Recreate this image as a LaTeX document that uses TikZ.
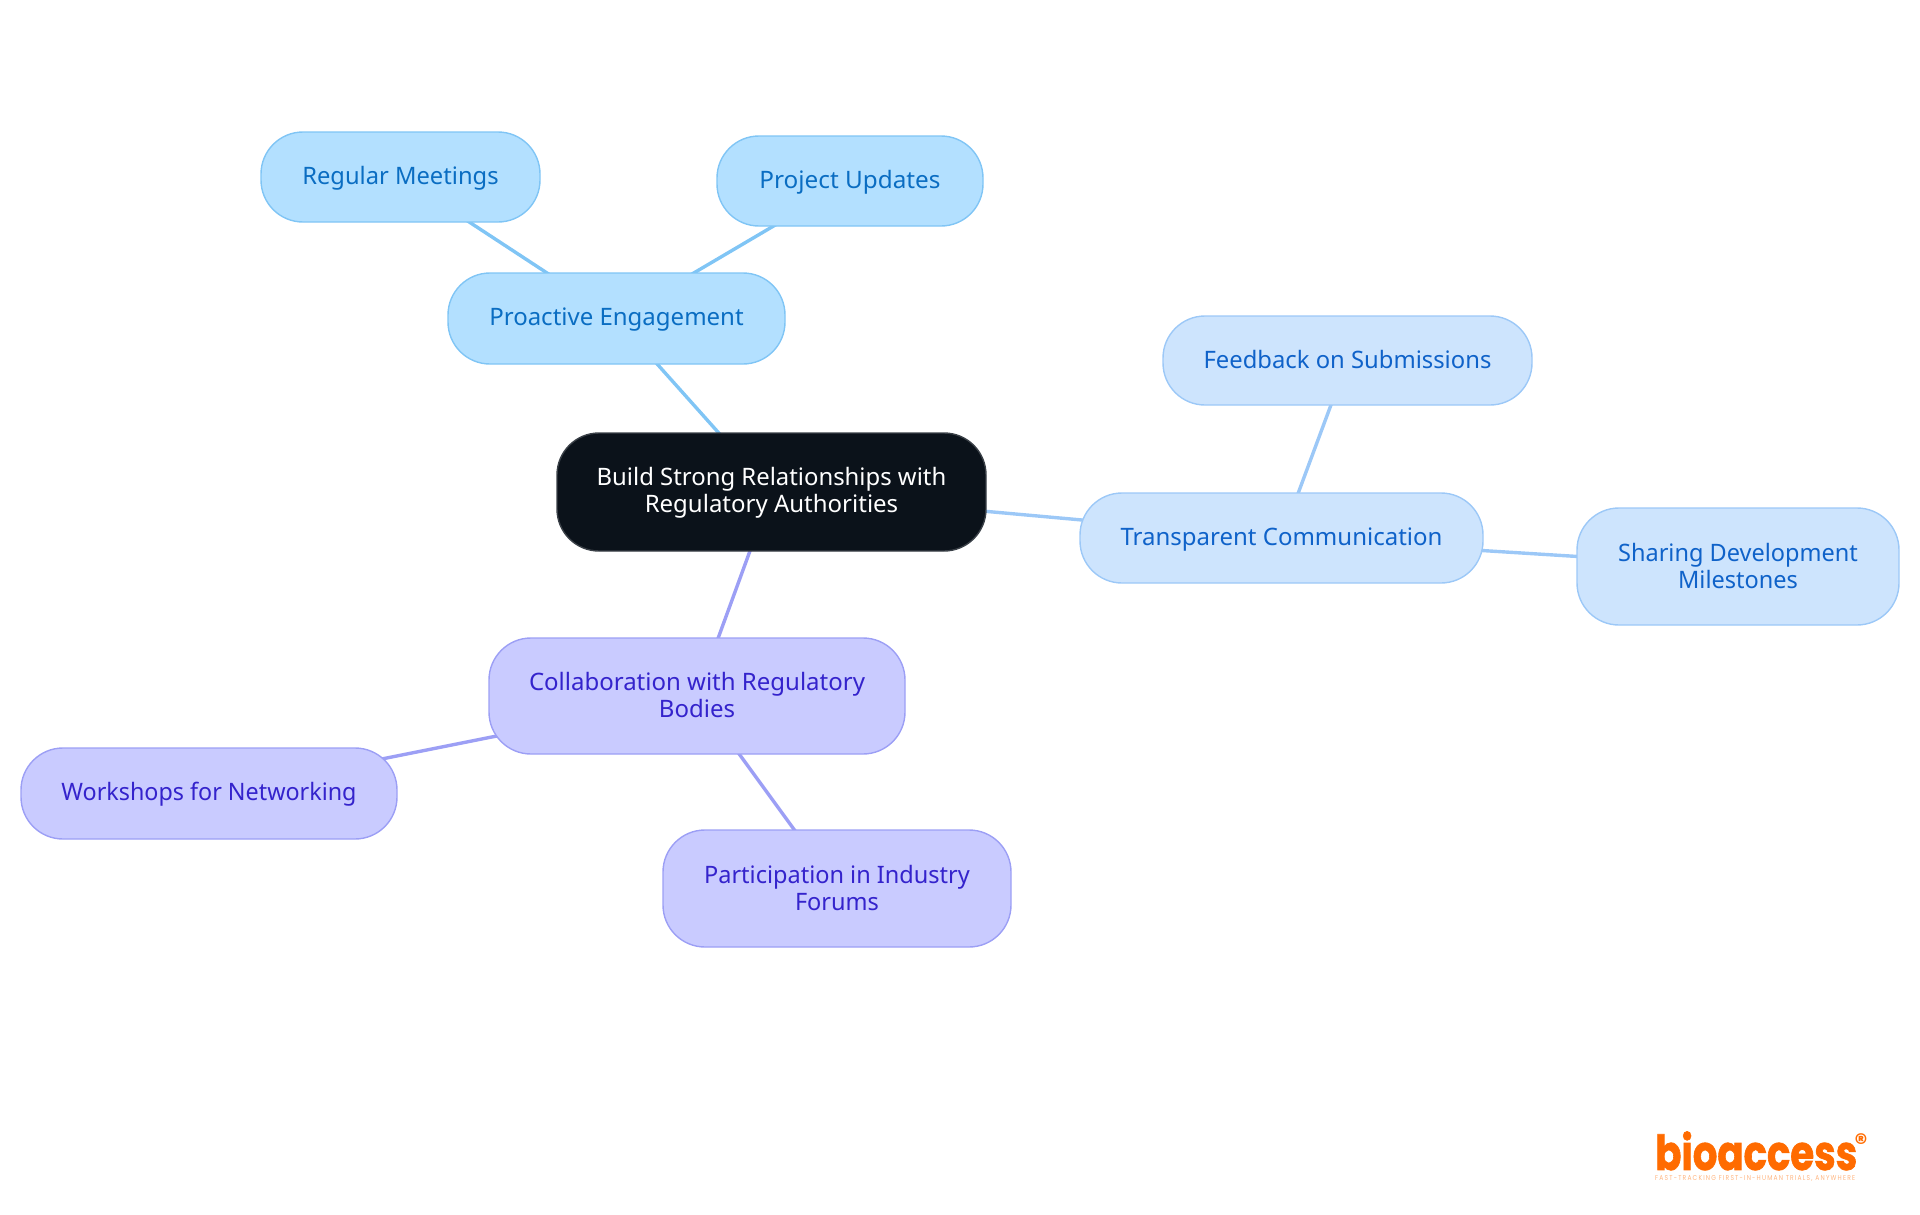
\documentclass[tikz,border=0pt]{standalone}
\usepackage{fontspec}
\setmainfont{Noto Sans}
\newfontfamily\logofont{Poppins}
\usetikzlibrary{backgrounds}
\definecolor{rootfill}{HTML}{0B121A}
\definecolor{rootline}{HTML}{3A4047}
\definecolor{afill}{HTML}{B3E0FF}
\definecolor{aline}{HTML}{80C5F5}
\definecolor{atext}{HTML}{0A6DC2}
\definecolor{bfill}{HTML}{CDE4FD}
\definecolor{bline}{HTML}{9CC8F7}
\definecolor{btext}{HTML}{0F62C9}
\definecolor{cfill}{HTML}{C9CBFF}
\definecolor{cline}{HTML}{9C9FF5}
\definecolor{ctext}{HTML}{3423CC}
\definecolor{logoorange}{HTML}{FF6B00}
\newcommand{\lh}{\rule{0pt}{20pt}\rule[-4pt]{0pt}{4pt}}
\newcommand{\sx}[2]{\scalebox{#1}[1]{#2}}
\tikzset{
  x=1pt,y=-1pt,
  box/.style={rectangle,rounded corners=42pt,line width=1.4pt,inner sep=0pt,align=center,
    font=\fontsize{24}{27}\selectfont},
  rootbox/.style={box,draw=rootline,fill=rootfill,text=white,minimum width=429pt,minimum height=118pt},
  abox/.style={box,draw=aline,fill=afill,text=atext},
  bbox/.style={box,draw=bline,fill=bfill,text=btext},
  cbox/.style={box,draw=cline,fill=cfill,text=ctext},
  aedge/.style={draw=aline,line width=3.4pt},
  bedge/.style={draw=bline,line width=3.4pt},
  cedge/.style={draw=cline,line width=3.4pt},
}
\begin{document}
\begin{tikzpicture}
\useasboundingbox (0,0) rectangle (1920,1215);
\node[rootbox] (root) at (771.5,492) {\lh\sx{0.995}{Build Strong Relationships with}\\\lh Regulatory Authorities};
\node[abox,minimum width=279pt,minimum height=90pt] (meet) at (400.5,177) {\lh\sx{0.988}{Regular Meetings}};
\node[abox,minimum width=266pt,minimum height=90pt] (upd) at (850,181) {\lh\sx{1.013}{Project Updates}};
\node[abox,minimum width=337pt,minimum height=91pt] (pro) at (616.5,318.5) {\lh Proactive Engagement};
\node[bbox,minimum width=369pt,minimum height=89pt] (feed) at (1347.5,360.5) {\lh\sx{0.992}{Feedback on Submissions}};
\node[bbox,minimum width=403pt,minimum height=90pt] (trans) at (1281.5,538) {\lh Transparent Communication};
\node[bbox,minimum width=322pt,minimum height=117pt] (share) at (1738,566.5) {\lh\sx{0.98}{Sharing Development}\\\lh\sx{0.98}{Milestones}};
\node[cbox,minimum width=416pt,minimum height=116pt] (coll) at (697,696) {\lh Collaboration with Regulatory\\\lh Bodies};
\node[cbox,minimum width=376pt,minimum height=91pt] (work) at (209,793.5) {\lh\sx{0.972}{Workshops for Networking}};
\node[cbox,minimum width=348pt,minimum height=117pt] (part) at (837,888.5) {\lh\sx{0.98}{Participation in Industry}\\\lh\sx{0.98}{Forums}};
\begin{scope}[on background layer]
\draw[aedge] (root.center) -- (pro.center);
\draw[aedge] (pro.center) -- (meet.center);
\draw[aedge] (pro.center) -- (upd.center);
\draw[bedge] (root.center) -- (trans.center);
\draw[bedge] (trans.center) -- (feed.center);
\draw[bedge] (trans.center) -- (share.center);
\draw[cedge] (root.center) -- (coll.center);
\draw[cedge] (coll.center) -- (work.center);
\draw[cedge] (coll.center) -- (part.center);
\end{scope}
\node[anchor=south west,inner sep=0pt,text=logoorange] (logo) at (1655,1170.5)
  {\resizebox{202pt}{38.5pt}{\logofont\bfseries\addfontfeature{FakeBold=1.5}bioaccess}};
\node[inner sep=0pt,text=logoorange] (reg) at (1861,1143) {\fontsize{25}{25}\selectfont\logofont\bfseries ®};
\node[anchor=west,inner sep=0pt,text=logoorange!50] (tag) at (1655,1178)
  {\resizebox{200pt}{5pt}{\logofont\addfontfeature{LetterSpace=20}FAST-TRACKING FIRST-IN-HUMAN TRIALS, ANYWHERE}};
\end{tikzpicture}
\end{document}
